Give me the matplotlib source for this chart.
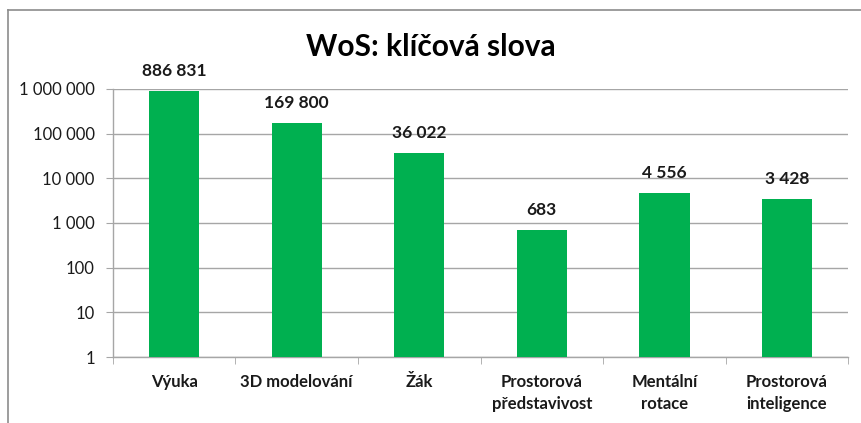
import matplotlib
matplotlib.use("Agg")
import matplotlib.pyplot as plt
from matplotlib.lines import Line2D
from matplotlib.ticker import FixedLocator, FuncFormatter, NullLocator
import numpy as np

plt.rcParams['font.family'] = ['Lato', 'DejaVu Sans']

title = "WoS: klíčová slova"
categories = ["Výuka", "3D modelování", "Žák", "Prostorová\npředstavivost",
              "Mentální\nrotace", "Prostorová\ninteligence"]
values = [886831, 169800, 36022, 683, 4556, 3428]
yticks = [1, 10, 100, 1000, 10000, 100000, 1000000]

def fmt(v):
    return f"{int(v):,}".replace(",", " ")

fig = plt.figure(figsize=(8.62, 4.23), dpi=100)
ax = fig.add_axes([0.131, 0.156, 0.853, 0.634])

x = np.arange(len(categories))
ax.bar(x, values, width=0.41, color="#00B050", zorder=3, bottom=1)
ax.set_yscale("log")
ax.set_ylim(1, 1e6)
ax.set_xlim(-0.5, len(categories) - 0.5)

ax.yaxis.set_major_locator(FixedLocator(yticks))
ax.yaxis.set_minor_locator(NullLocator())
ax.yaxis.set_major_formatter(FuncFormatter(lambda v, p: fmt(v)))
ax.grid(axis="y", color="#A6A6A6", linewidth=1.0, zorder=0)

ax.set_xticks(x)
ax.set_xticklabels(categories, fontsize=12, fontweight="bold", color="#1a1a1a", linespacing=1.45)
ax.xaxis.set_minor_locator(FixedLocator(np.arange(len(categories) + 1) - 0.5))
ax.tick_params(axis="x", which="major", length=0, pad=12)
ax.tick_params(axis="x", which="minor", length=5, color="#A6A6A6", direction="out")
ax.tick_params(axis="y", which="major", length=5, color="#A6A6A6", labelsize=12, labelcolor="#1a1a1a", pad=8)

for s in ["top", "right"]:
    ax.spines[s].set_visible(False)
for s in ["left", "bottom"]:
    ax.spines[s].set_color("#A6A6A6")
    ax.spines[s].set_linewidth(1.0)

for xi, v in zip(x, values):
    ax.annotate(fmt(v), (xi, v), xytext=(0, 9), textcoords="offset points",
                ha="center", va="bottom", fontsize=12.5, fontweight="bold", color="#1a1a1a")

fig.text(0.5, 0.889, title, ha="center", va="center", fontsize=21.5, fontweight="bold", color="#000000")

# outer chart border (left and top visible)
fig.add_artist(Line2D([0.0093, 0.0093], [0.0, 0.976], transform=fig.transFigure, color="#8C8C8C", linewidth=1.2))
fig.add_artist(Line2D([0.0093, 1.0], [0.976, 0.976], transform=fig.transFigure, color="#8C8C8C", linewidth=1.2))

fig.savefig("out.png", dpi=100, facecolor="white")
